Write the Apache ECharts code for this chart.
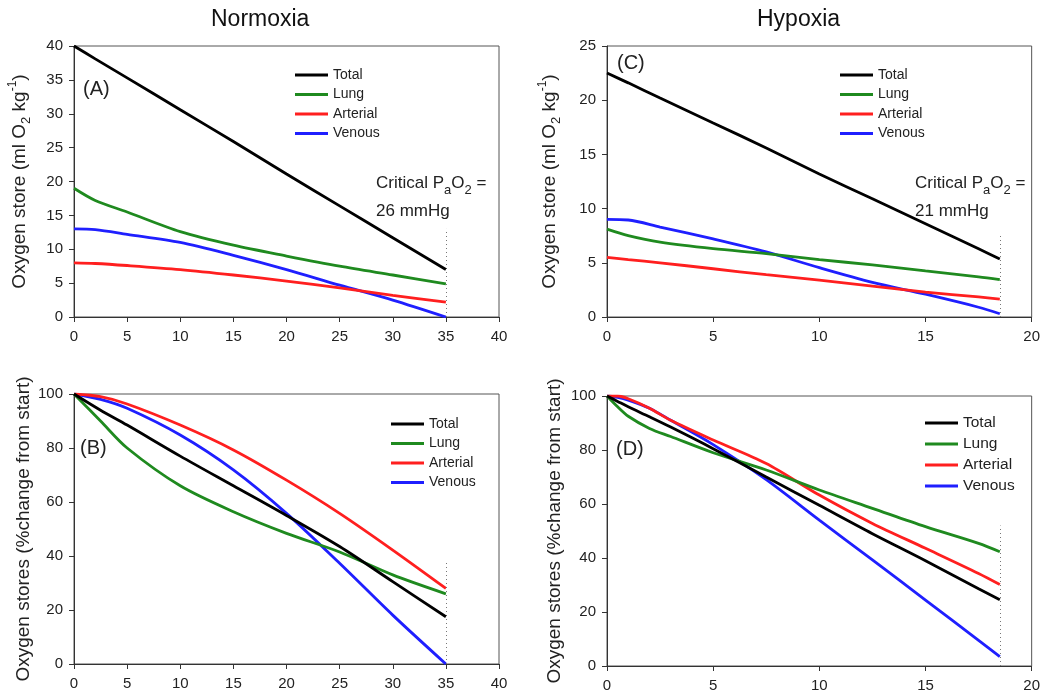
<!DOCTYPE html>
<html><head><meta charset="utf-8">
<script src="https://cdn.jsdelivr.net/npm/echarts@6/dist/echarts.min.js"></script>
<style>html,body{margin:0;padding:0;background:#fff}#c{width:1043px;height:696px}</style>
</head><body><div id="c"></div>
<script>
// ---- Data ----
const seriesNames = ['Total', 'Lung', 'Arterial', 'Venous'];

// Panel A: Normoxia, oxygen store (ml O2 kg-1)
const xA = [0, 2, 5, 10, 15, 20, 25, 30, 35];
const totalA = [40, 38.1, 35.3, 30.6, 25.9, 21.1, 16.4, 11.7, 7];
const lungA = [19, 17.2, 15.5, 12.6, 10.6, 9.0, 7.5, 6.2, 4.9];
const arterialA = [8.0, 7.9, 7.6, 7.0, 6.2, 5.3, 4.3, 3.2, 2.2];
const venousA = [13.0, 12.9, 12.2, 11.0, 9.1, 7.0, 4.7, 2.5, 0];

// Panel B: Normoxia, % change from start
const xB = [0, 2.5, 5, 10, 15, 20, 25, 30, 35];
const totalB = [100, 94, 88.5, 77, 66, 55, 43.5, 30.5, 17.5];
const lungB = [100, 90, 80, 66, 56.4, 48.4, 41.5, 33, 26];
const arterialB = [100, 99, 96.3, 88.5, 79.3, 68.1, 55.8, 42.2, 28];
const venousB = [100, 98, 94.7, 84.8, 71.9, 55.8, 37.3, 18.1, 0];

// Panel C: Hypoxia, oxygen store
const xC = [0, 1, 2.5, 5, 7.5, 10, 12.5, 15, 17.5, 18.5];
const totalC = [22.5, 21.6, 20.2, 17.9, 15.6, 13.2, 10.9, 8.6, 6.3, 5.35];
const lungC = [8.1, 7.5, 6.9, 6.3, 5.85, 5.3, 4.8, 4.25, 3.7, 3.45];
const arterialC = [5.5, 5.3, 5.0, 4.45, 3.9, 3.4, 2.85, 2.3, 1.85, 1.65];
const venousC = [9.0, 8.95, 8.3, 7.2, 6.0, 4.55, 3.2, 2.1, 0.9, 0.3];

// Panel D: Hypoxia, % change from start
const xD = [0, 0.5, 1, 2, 3, 5, 7.5, 10, 12.5, 15, 17.5, 18.5];
const totalD = [100, 98, 96, 92.3, 88.5, 80.5, 70, 59.5, 49, 39, 28.6, 24.5];
const lungD = [100, 96, 92.5, 88, 85, 79, 72.6, 65.2, 58.4, 51.6, 45.4, 42.3];
const arterialD = [100, 100, 99, 95.5, 91, 83.7, 75, 63.3, 52.8, 43.6, 34.3, 30.2];
const venousD = [100, 99.5, 98.5, 95.5, 91, 82, 69, 54, 39.3, 24.4, 9.5, 3.5];

// Critical PaO2 markers: [x, top of dotted line] per panel
const criticalA = [35, 13];
const criticalB = [35, 38];
const criticalC = [18.5, 7.7];
const criticalD = [18.5, 52];

// Axis ranges [min, max, interval]
const xTicksNormoxia = [0, 40, 5];
const xTicksHypoxia = [0, 20, 5];
const yTicksA = [0, 40, 5];
const yTicksC = [0, 25, 5];
const yTicksPct = [0, 100, 20];

// ---- Chart ----
const FONT = '"Liberation Sans", Arial, Helvetica, sans-serif';
const colors = ['#000000', '#1f8a1f', '#ff1f1f', '#1f1fff'];
const pair = (xs, ys) => xs.map((x, i) => [x, ys[i]]);

const panels = [
  {x: xA, ys: [totalA, lungA, arterialA, venousA], crit: criticalA},
  {x: xB, ys: [totalB, lungB, arterialB, venousB], crit: criticalB},
  {x: xC, ys: [totalC, lungC, arterialC, venousC], crit: criticalC},
  {x: xD, ys: [totalD, lungD, arterialD, venousD], crit: criticalD},
];

const grids = [
  {left: 74, top: 46, width: 425, height: 271},
  {left: 74, top: 394, width: 425, height: 270},
  {left: 607, top: 46, width: 425, height: 271},
  {left: 607, top: 396, width: 425, height: 270},
].map(g => Object.assign(g, {show: true, borderColor: '#555', borderWidth: 1, backgroundColor: 'transparent'}));

const xRanges = [xTicksNormoxia, xTicksNormoxia, xTicksHypoxia, xTicksHypoxia];
const yRanges = [yTicksA, yTicksPct, yTicksC, yTicksPct];
const storeName = 'Oxygen store (ml O{sub|2} kg{sup|-1})';
const pctName = 'Oxygen stores (%change from start)';
const yNames = [storeName, pctName, storeName, pctName];
const nameGaps = [41, 41, 44, 43];

const axisCommon = {
  axisLine: {show: true, lineStyle: {color: '#333', width: 1}},
  axisTick: {show: true, inside: false, length: 5, lineStyle: {color: '#333'}},
  splitLine: {show: false},
  axisLabel: {color: '#222', fontSize: 15, fontFamily: FONT},
};

const xAxis = xRanges.map((r, i) => Object.assign({
  type: 'value', gridIndex: i, min: r[0], max: r[1], interval: r[2],
}, axisCommon, {axisLabel: Object.assign({}, axisCommon.axisLabel, {margin: 12})}));

const yAxis = yRanges.map((r, i) => Object.assign({
  type: 'value', gridIndex: i, min: r[0], max: r[1], interval: r[2],
  name: yNames[i], nameLocation: 'middle', nameGap: nameGaps[i],
  nameTextStyle: {
    fontSize: 19, color: '#222', fontFamily: FONT,
    rich: {
      sub: {fontSize: 13, fontFamily: FONT, color: '#222', verticalAlign: 'bottom', lineHeight: 26},
      sup: {fontSize: 12, fontFamily: FONT, color: '#222', verticalAlign: 'top', lineHeight: 26}
    }
  },
}, axisCommon, {axisLabel: Object.assign({}, axisCommon.axisLabel, {margin: 11})}));

const series = [];
panels.forEach((p, gi) => {
  p.ys.forEach((ys, si) => {
    const s = {
      name: seriesNames[si], type: 'line', xAxisIndex: gi, yAxisIndex: gi,
      data: pair(p.x, ys), smooth: 0.3, symbol: 'none', showSymbol: false,
      lineStyle: {color: colors[si], width: 2.8}, itemStyle: {color: colors[si]},
      z: 3 + (3 - si), animation: false,
    };
    if (si === 0) {
      s.markLine = {
        silent: true, symbol: 'none', animation: false,
        lineStyle: {type: [1, 3], color: '#777', width: 1},
        label: {show: false},
        data: [[{coord: [p.crit[0], 0]}, {coord: [p.crit[0], p.crit[1]]}]],
      };
    }
    series.push(s);
  });
});

const legendBase = {
  orient: 'vertical', data: seriesNames, icon: 'rect', itemWidth: 33, itemHeight: 3,
  textStyle: {fontSize: 14, color: '#222', fontFamily: FONT}, selectedMode: false,
  itemGap: 5.5,
};
const legend = [
  Object.assign({}, legendBase, {left: 290, top: 63}),
  Object.assign({}, legendBase, {left: 386, top: 412}),
  Object.assign({}, legendBase, {left: 835, top: 63}),
  Object.assign({}, legendBase, {left: 920, top: 410, itemGap: 5, textStyle: {fontSize: 15.5, color: '#222', fontFamily: FONT}}),
];

const critRich = {
  sub: {fontSize: 13, fontFamily: FONT, fill: '#222', verticalAlign: 'bottom', lineHeight: 24},
};
function critText(x, y, mm) {
  return {
    type: 'text', left: x, top: y,
    style: {
      text: 'Critical P{sub|a}O{sub|2} =\n' + mm,
      fontSize: 17, fontFamily: FONT, fill: '#222', align: 'center', lineHeight: 28,
      rich: critRich,
    },
  };
}
const label = (t, x, y) => ({type: 'text', left: x, top: y, style: {text: t, fontSize: 20, fontFamily: FONT, fill: '#222'}});

const option = {
  animation: false,
  backgroundColor: '#fff',
  title: [
    {text: 'Normoxia', left: 206, top: 3, textStyle: {fontSize: 23, fontWeight: 'normal', color: '#111', fontFamily: FONT}},
    {text: 'Hypoxia', left: 752, top: 3, textStyle: {fontSize: 23, fontWeight: 'normal', color: '#111', fontFamily: FONT}},
  ],
  grid: grids, xAxis, yAxis, series, legend,
  graphic: [
    critText(376, 169, '26 mmHg'),
    critText(915, 169, '21 mmHg'),
    label('(A)', 83, 79),
    label('(C)', 617, 53),
    label('(B)', 80, 438),
    label('(D)', 616, 439),
  ],
};

const chart = echarts.init(document.getElementById('c'), null, {renderer: 'canvas'});
chart.setOption(option);
</script>
</body></html>
